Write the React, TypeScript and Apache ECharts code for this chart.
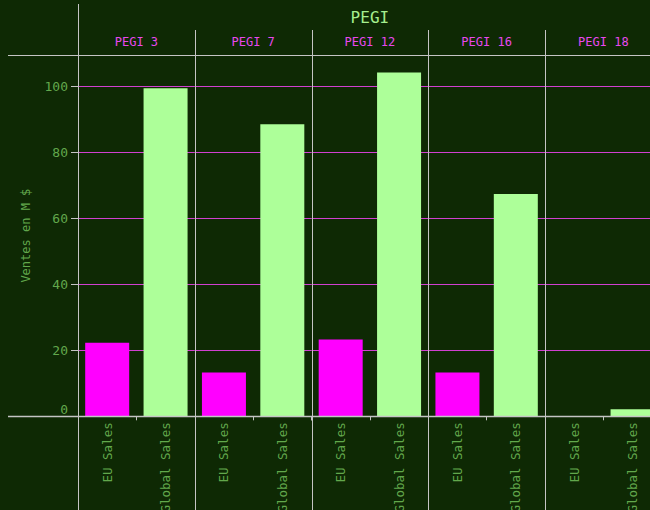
import React, { useEffect, useRef } from "react";
import * as echarts from "echarts";

const pegiGroups = ["PEGI 3", "PEGI 7", "PEGI 12", "PEGI 16", "PEGI 18"];
const categories = ["EU Sales", "Global Sales"];
const euSales = [22.3, 13.3, 23.3, 13.3, 0];
const globalSales = [99.4, 88.5, 104.2, 67.4, 2.1];
const yTicks = [0, 20, 40, 60, 80, 100];

const BG = "#0e2904";
const LINE = "#c4c4c4";
const GREEN_TXT = "#62a84c";
const MAGENTA_TXT = "#e848ee";
const EU_COLOR = "#ff00ff";
const GLOBAL_COLOR = "#adff99";
const FONT = "DejaVu Sans Mono";

export default function App() {
  const ref = useRef<HTMLDivElement>(null);
  useEffect(() => {
    if (!ref.current) return;
    const chart = echarts.init(ref.current, null, { renderer: "svg" });
    const left0 = 78;
    const W = 116.75;
    const top = 55;
    const bottom = 416.3;
    const n = pegiGroups.length;

    const grids: any[] = [];
    const xAxes: any[] = [];
    const yAxes: any[] = [];
    const series: any[] = [];
    pegiGroups.forEach((g, i) => {
      grids.push({
        left: left0 + i * W,
        top,
        width: W,
        height: bottom - top,
        containLabel: false,
        outerBoundsMode: "none",
      });
      xAxes.push({
        type: "category",
        gridIndex: i,
        data: categories,
        axisLine: { show: false },
        axisTick: { show: true, length: 4, lineStyle: { color: LINE } },
        axisLabel: {
          rotate: 90,
          margin: 6,
          color: GREEN_TXT,
          fontFamily: FONT,
          fontSize: 12.5,
        },
      });
      yAxes.push({
        type: "value",
        gridIndex: i,
        min: 0,
        max: 109.5,
        interval: 20,
        axisLine: { show: false },
        axisTick: { show: i === 0, length: 7, lineStyle: { color: LINE } },
        axisLabel: {
          show: i === 0,
          showMaxLabel: false,
          color: GREEN_TXT,
          fontFamily: FONT,
          fontSize: 13,
          margin: 10,
          verticalAlignMinLabel: "bottom",
          formatter: (v: number) => (yTicks.includes(v) ? String(v) : ""),
        },
        splitLine: { show: true, showMaxLine: false, lineStyle: { color: "#d040d0", width: 1 } },
        name: i === 0 ? "Ventes en M $" : "",
        nameLocation: "middle",
        nameRotate: 90,
        nameGap: 46,
        nameTextStyle: { color: GREEN_TXT, fontFamily: FONT, fontSize: 12 },
      });
      series.push({
        type: "bar",
        xAxisIndex: i,
        yAxisIndex: i,
        barWidth: 44,
        data: [
          { value: euSales[i], itemStyle: { color: EU_COLOR } },
          { value: globalSales[i], itemStyle: { color: GLOBAL_COLOR } },
        ],
      });
    });

    const graphics: any[] = [];
    graphics.push({ type: "line", z: 100, shape: { x1: 78.5, y1: 4, x2: 78.5, y2: 510 }, style: { stroke: LINE, lineWidth: 1 } });
    for (let i = 1; i < n; i++) {
      const x = Math.round(left0 + i * W) + 0.5;
      graphics.push({ type: "line", z: 100, shape: { x1: x, y1: 30, x2: x, y2: 510 }, style: { stroke: LINE, lineWidth: 1 } });
    }
    graphics.push({ type: "line", z: 100, shape: { x1: 8, y1: 55.5, x2: 650, y2: 55.5 }, style: { stroke: LINE, lineWidth: 1 } });
    graphics.push({ type: "line", z: 100, shape: { x1: 8, y1: 416.5, x2: 650, y2: 416.5 }, style: { stroke: LINE, lineWidth: 1.5 } });
    pegiGroups.forEach((g, i) => {
      graphics.push({
        type: "text",
        z: 100,
        x: left0 + i * W + W / 2,
        y: 42,
        style: { text: g, fill: MAGENTA_TXT, font: `12px ${FONT}`, align: "center", verticalAlign: "middle" },
      });
    });
    graphics.push({
      type: "text",
      z: 100,
      x: left0 + (n * W) / 2,
      y: 17,
      style: { text: "PEGI", fill: "#a6ee8e", font: `16px ${FONT}`, align: "center", verticalAlign: "middle" },
    });

    chart.setOption({
      animation: false,
      backgroundColor: BG,
      grid: grids,
      xAxis: xAxes,
      yAxis: yAxes,
      series,
      graphic: graphics,
    });
    return () => chart.dispose();
  }, []);
  return <div ref={ref} style={{ position: "absolute", left: 0, top: 0, width: 650, height: 510 }} />;
}
